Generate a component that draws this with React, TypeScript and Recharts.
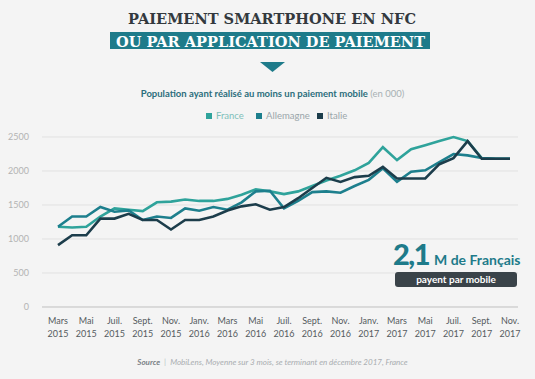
import React from "react";
import { LineChart, Line, XAxis, YAxis, CartesianGrid } from "recharts";

const months = [
  "Mars 2015", "Avr. 2015", "Mai 2015", "Juin 2015", "Juil. 2015", "Août 2015",
  "Sept. 2015", "Oct. 2015", "Nov. 2015", "Déc. 2015", "Janv. 2016", "Févr. 2016",
  "Mars 2016", "Avr. 2016", "Mai 2016", "Juin 2016", "Juil. 2016", "Août 2016",
  "Sept. 2016", "Oct. 2016", "Nov. 2016", "Déc. 2016", "Janv. 2017", "Févr. 2017",
  "Mars 2017", "Avr. 2017", "Mai 2017", "Juin 2017", "Juil. 2017", "Août 2017",
  "Sept. 2017", "Oct. 2017", "Nov. 2017",
];

const france = [
  1180, 1170, 1180, 1330, 1450, 1430, 1410, 1540, 1550, 1580, 1560, 1560, 1590,
  1650, 1730, 1700, 1660, 1700, 1780, 1860, 1930, 2010, 2120, 2350, 2160, 2320,
  2380, 2440, 2500, 2440, 2190, 2180, 2180,
];

const allemagne = [
  1180, 1330, 1330, 1470, 1400, 1420, 1280, 1330, 1310, 1450, 1415, 1470, 1430,
  1540, 1700, 1710, 1450, 1560, 1690, 1700, 1680, 1780, 1870, 2040, 1840, 1990,
  2010, 2130, 2250, 2230, 2190, 2180, 2180,
];

const italie = [
  910, 1055, 1055, 1300, 1300, 1370, 1280, 1280, 1140, 1280, 1280, 1330, 1420,
  1480, 1510, 1430, 1470, 1600, 1750, 1900, 1840, 1910, 1930, 2060, 1890, 1890,
  1890, 2100, 2190, 2440, 2180, 2180, 2180,
];

const yTicks = [0, 500, 1000, 1500, 2000, 2500];

const series = [
  { key: "france", name: "France", color: "#2fa39b", left: 206 },
  { key: "allemagne", name: "Allemagne", color: "#1d7f8d", left: 256 },
  { key: "italie", name: "Italie", color: "#1c3d4b", left: 317 },
];

const data = months.map((m, i) => ({
  month: m,
  france: france[i],
  allemagne: allemagne[i],
  italie: italie[i],
}));

const FONT = "Lato, 'Open Sans', sans-serif";

function MonthTick(props: any) {
  const { x, y, payload } = props;
  const [name, year] = String(payload.value).split(" ");
  return (
    <text x={x} textAnchor="middle" fill="#555b60" fontSize={9} fontFamily={FONT}>
      <tspan x={x} y={y + 9}>{name}</tspan>
      <tspan x={x} y={y + 22}>{year}</tspan>
    </text>
  );
}

function LegendBox() {
  return (
    <>
      {series.map((s) => (
        <div
          key={s.key}
          style={{
            position: "absolute",
            top: 110,
            left: s.left,
            display: "flex",
            alignItems: "center",
            gap: 4,
            fontFamily: FONT,
            fontSize: 9.5,
            lineHeight: "12px",
            whiteSpace: "nowrap",
          }}
        >
          <span style={{ width: 6, height: 6, background: s.color, display: "inline-block" }} />
          <span style={{ color: s.key === "france" ? "#7fbfba" : "#9aa6aa" }}>{s.name}</span>
        </div>
      ))}
    </>
  );
}

export default function App() {
  return (
    <div
      style={{
        position: "absolute",
        left: 0,
        top: 0,
        width: 535,
        height: 379,
        background: "#f4f4f4",
        overflow: "hidden",
      }}
    >
      <svg width={535} height={80} style={{ position: "absolute", left: 0, top: 0 }}>
        <text
          x={128}
          y={24}
          fontFamily="'DejaVu Serif', serif"
          fontWeight="bold"
          fontSize={15.5}
          fill="#33393e"
          textLength={288}
          lengthAdjust="spacingAndGlyphs"
        >
          PAIEMENT SMARTPHONE EN NFC
        </text>
        <rect x={110} y={32} width={320} height={17} fill="#1e7b8a" />
        <text
          x={116}
          y={46.5}
          fontFamily="'DejaVu Serif', serif"
          fontWeight="bold"
          fontSize={15.5}
          fill="#ffffff"
          textLength={309}
          lengthAdjust="spacingAndGlyphs"
        >
          OU PAR APPLICATION DE PAIEMENT
        </text>
        <polygon points="260,62 285,62 272.5,72" fill="#1e7b8a" />
      </svg>

      <div
        style={{
          position: "absolute",
          top: 88,
          left: 5,
          width: 535,
          textAlign: "center",
          fontFamily: FONT,
          fontSize: 9.5,
          color: "#2b6e7c",
          fontWeight: 700,
        }}
      >
        Population ayant réalisé au moins un paiement mobile{" "}
        <span style={{ fontWeight: 400, color: "#a7b0b3" }}>(en 000)</span>
      </div>

      <LegendBox />

      <div style={{ position: "absolute", left: 0, top: 0 }}>
        <LineChart
          width={535}
          height={379}
          data={data}
          margin={{ top: 137, right: 17, bottom: 42, left: 0 }}
        >
          <CartesianGrid vertical={false} stroke="#e1e1e1" strokeWidth={1} />
          <XAxis
            dataKey="month"
            height={30}
            interval={1}
            padding={{ left: 16, right: 8 }}
            tickLine={false}
            axisLine={{ stroke: "#c9c9c9" }}
            tick={<MonthTick />}
          />
          <YAxis
            width={42}
            domain={[0, 2500]}
            ticks={yTicks}
            tickLine={false}
            axisLine={false}
            tickMargin={7}
            tick={{ fontSize: 9, fill: "#b3b3b3", fontFamily: FONT }}
          />
          {series.map((s) => (
            <Line
              key={s.key}
              type="linear"
              dataKey={s.key}
              name={s.name}
              stroke={s.color}
              strokeWidth={2.6}
              dot={false}
              isAnimationActive={false}
            />
          ))}
        </LineChart>
      </div>

      <div
        style={{
          position: "absolute",
          left: 393,
          top: 239,
          fontFamily: FONT,
          color: "#1e7b8a",
          whiteSpace: "nowrap",
          display: "flex",
          alignItems: "baseline",
          lineHeight: "30px",
        }}
      >
        <span style={{ fontSize: 29, fontWeight: 900, letterSpacing: -1.5 }}>2,1</span>
        <span style={{ fontSize: 14, fontWeight: 700, marginLeft: 5 }}>M de Français</span>
      </div>
      <div
        style={{
          position: "absolute",
          left: 395,
          top: 272,
          width: 122,
          height: 15,
          borderRadius: 3,
          background: "#3a4349",
          color: "#ffffff",
          fontFamily: FONT,
          fontSize: 10,
          fontWeight: 700,
          textAlign: "center",
          lineHeight: "15px",
        }}
      >
        payent par mobile
      </div>

      <div
        style={{
          position: "absolute",
          top: 357,
          left: 0,
          width: 545,
          textAlign: "center",
          fontFamily: FONT,
          fontSize: 8,
          fontStyle: "italic",
          color: "#a9adb0",
          whiteSpace: "nowrap",
        }}
      >
        <span style={{ fontWeight: 700, color: "#7b8287" }}>Source</span>
        <span style={{ margin: "0 4px", color: "#b8c4c6" }}>|</span>
        MobiLens, Moyenne sur 3 mois, se terminant en décembre 2017, France
      </div>
    </div>
  );
}
